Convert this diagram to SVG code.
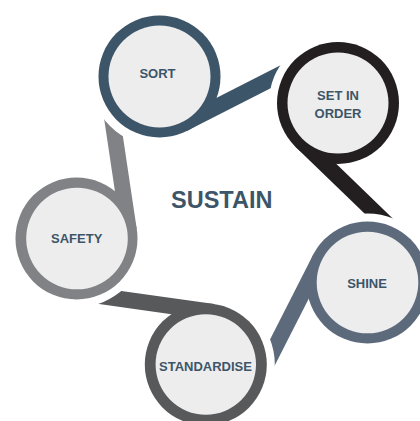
<svg xmlns="http://www.w3.org/2000/svg" width="420" height="421" viewBox="0 0 420 421">
  <style>
    .face { fill: #ededee; }
    .label { font-family: "Liberation Sans", Arial, sans-serif; font-weight: 700; font-size: 13px; fill: #3d5568; text-anchor: middle; }
    .title { font-family: "Liberation Sans", Arial, sans-serif; font-weight: 700; font-size: 23.5px; fill: #3d5568; text-anchor: middle; }
  </style>
  <defs>
    <!-- each tail stops short of the next ring, leaving a white gap -->
    <clipPath id="gap-set"><path clip-rule="evenodd" d="M-50-50H470V470H-50Z M269 103a69 69 0 1 0 138 0a69 69 0 1 0 -138 0Z"/></clipPath>
    <clipPath id="gap-shine"><path clip-rule="evenodd" d="M-50-50H470V470H-50Z M298.5 282.5a69 69 0 1 0 138 0a69 69 0 1 0 -138 0Z"/></clipPath>
    <clipPath id="gap-std"><path clip-rule="evenodd" d="M-50-50H470V470H-50Z M136.8 364.5a69 69 0 1 0 138 0a69 69 0 1 0 -138 0Z"/></clipPath>
    <clipPath id="gap-safety"><path clip-rule="evenodd" d="M-50-50H470V470H-50Z M7.5 238.5a69 69 0 1 0 138 0a69 69 0 1 0 -138 0Z"/></clipPath>
    <clipPath id="gap-sort"><path clip-rule="evenodd" d="M-50-50H470V470H-50Z M89.5 76.5a70 70 0 1 0 140 0a70 70 0 1 0 -140 0Z"/></clipPath>
  </defs>

  <!-- tails: bands tangent to their own ring, running clockwise to the next ring -->
  <g id="connectors">
    <g clip-path="url(#gap-set)"><rect x="0" y="45" width="130" height="16" fill="#3d5568" transform="translate(159.5 76.5) rotate(-27)"/></g>
    <g clip-path="url(#gap-shine)"><rect x="0" y="45" width="130" height="16" fill="#231f20" transform="translate(338 103) rotate(44)"/></g>
    <g clip-path="url(#gap-std)"><rect x="0" y="45" width="130" height="16" fill="#5c6a7b" transform="translate(367.5 282.5) rotate(117)"/></g>
    <g clip-path="url(#gap-safety)"><rect x="0" y="45" width="130" height="16" fill="#58595b" transform="translate(205.8 364.5) rotate(188)"/></g>
    <g clip-path="url(#gap-sort)"><rect x="0" y="45" width="130" height="16" fill="#808285" transform="translate(76.5 238.5) rotate(261.5)"/></g>
  </g>

  <g id="sort">
    <circle cx="159.5" cy="76.5" r="61" fill="#3d5568"/>
    <circle class="face" cx="159.5" cy="76.5" r="51"/>
    <text class="label" x="157.5" y="78.3">SORT</text>
  </g>

  <g id="set-in-order">
    <circle cx="338" cy="103" r="61" fill="#231f20"/>
    <circle class="face" cx="338" cy="103" r="50.5"/>
    <text class="label" x="338" y="100">SET IN</text>
    <text class="label" x="338" y="117.7">ORDER</text>
  </g>

  <g id="shine">
    <circle cx="367.5" cy="282.5" r="61" fill="#5c6a7b"/>
    <circle class="face" cx="367.5" cy="282.5" r="50.8"/>
    <text class="label" x="367" y="288.3">SHINE</text>
  </g>

  <g id="standardise">
    <circle cx="205.8" cy="364.5" r="61" fill="#58595b"/>
    <circle class="face" cx="205.8" cy="364.5" r="50.2"/>
    <text class="label" x="205.5" y="371">STANDARDISE</text>
  </g>

  <g id="safety">
    <circle cx="76.5" cy="238.5" r="61" fill="#808285"/>
    <circle class="face" cx="77" cy="238.5" r="50.8"/>
    <text class="label" x="76.7" y="242.7">SAFETY</text>
  </g>

  <g id="sustain">
    <text class="title" x="221.7" y="207.7">SUSTAIN</text>
  </g>
</svg>
